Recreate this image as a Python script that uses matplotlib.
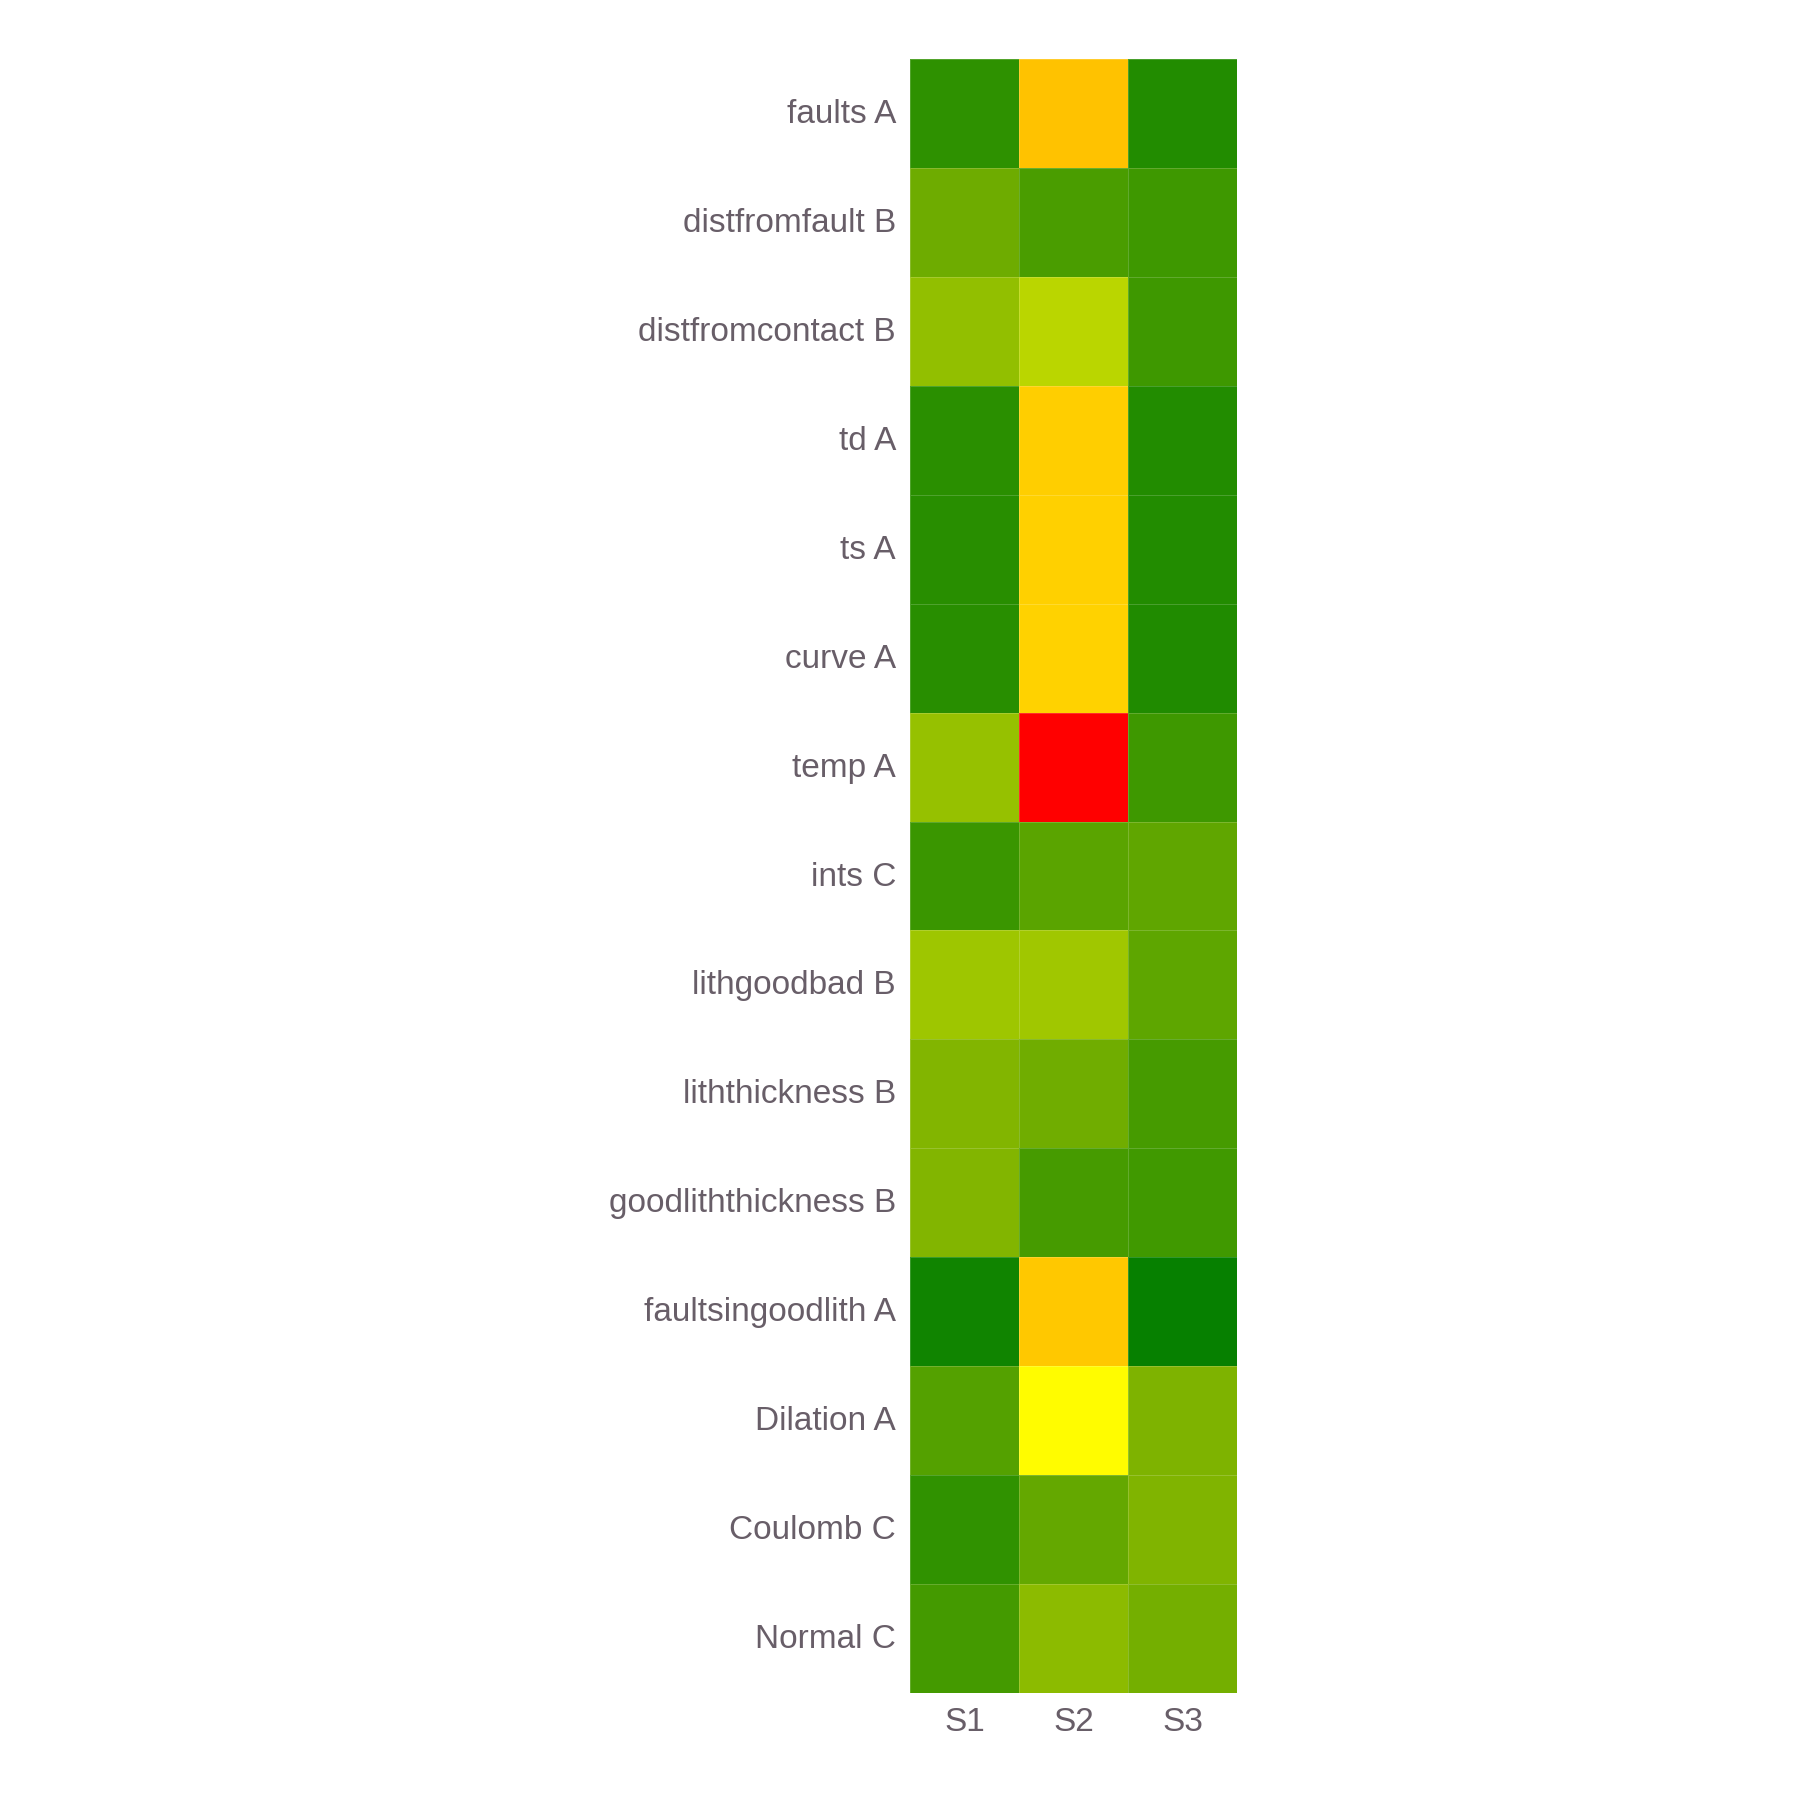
import numpy as np
import matplotlib.pyplot as plt
import matplotlib.transforms as mtransforms
from matplotlib.colors import LinearSegmentedColormap

rows = ["faults A", "distfromfault B", "distfromcontact B", "td A", "ts A",
        "curve A", "temp A", "ints C", "lithgoodbad B", "liththickness B",
        "goodliththickness B", "faultsingoodlith A", "Dilation A",
        "Coulomb C", "Normal C"]
cols = ["S1", "S2", "S3"]

s1 = [0.090, 0.216, 0.286, 0.085, 0.079, 0.079, 0.294, 0.114, 0.310, 0.255,
      0.255, 0.035, 0.165, 0.094, 0.135]
s2 = [0.620, 0.145, 0.365, 0.594, 0.592, 0.588, 1.000, 0.176, 0.314, 0.220,
      0.140, 0.608, 0.504, 0.198, 0.275]
s3 = [0.070, 0.122, 0.122, 0.067, 0.067, 0.065, 0.122, 0.188, 0.186, 0.137,
      0.125, 0.014, 0.249, 0.251, 0.228]

TEXT = "#685e68"

cmap = LinearSegmentedColormap.from_list(
    "gyr", [(0.0, "#007d00"), (0.25, "#80b400"), (0.5, "#ffff00"),
            (1.0, "#ff0000")])

z = np.column_stack([s1, s2, s3])

fig = plt.figure(figsize=(18, 18), dpi=100)
ax = fig.add_axes([910 / 1800, 1 - 1693 / 1800, 327 / 1800, 1634 / 1800])
ax.pcolormesh(np.arange(len(cols) + 1), np.arange(len(rows) + 1), z,
              cmap=cmap, vmin=0, vmax=1,
              edgecolors=(1, 1, 1, 0.18), linewidth=0.6)
ax.set_xlim(0, len(cols))
ax.set_ylim(len(rows), 0)

ax.set_xticks(np.arange(len(cols)) + 0.5)
ax.set_xticklabels(cols)
ax.set_yticks(np.arange(len(rows)) + 0.5)
ax.set_yticklabels(rows)
ax.tick_params(length=0, labelsize=24, labelcolor=TEXT, pad=10)

# nudge row labels up a touch to sit like the original
shift = mtransforms.ScaledTranslation(0, 2.5 / 100, fig.dpi_scale_trans)
for lbl in ax.get_yticklabels():
    lbl.set_transform(lbl.get_transform() + shift)
for lbl in ax.get_xticklabels() + ax.get_yticklabels():
    lbl.set_family("Liberation Sans")
for sp in ax.spines.values():
    sp.set_visible(False)

fig.savefig("out.png", dpi=100, facecolor="white")
plt.close(fig)
